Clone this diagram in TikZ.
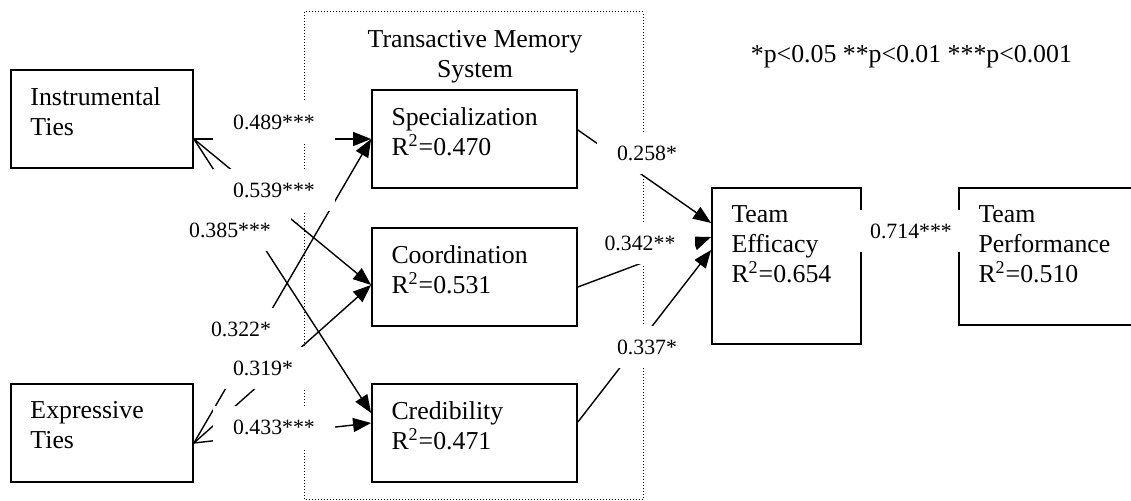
\documentclass[tikz,border=0pt]{standalone}
\usepackage{fontspec}
\setmainfont{Liberation Serif}
\usetikzlibrary{arrows.meta}

\begin{document}
\begin{tikzpicture}[x=0.5pt,y=-0.5pt,font=\fontsize{12.9}{15}\selectfont]
	\tikzstyle{var}=[draw,line width=0.9pt,inner sep=0pt];
	\tikzstyle{txt}=[anchor=north west,align=left,inner sep=0pt,xshift=10pt,yshift=-9pt];
	\tikzstyle{link}=[line width=0.7pt,-{Triangle[length=9pt,width=7pt]}];
	\tikzstyle{coef}=[fill=white,inner xsep=10pt,inner ysep=7pt,font=\fontsize{10.9}{13}\selectfont];
	\useasboundingbox (0,0) rectangle (1131,501);
	%% transactive memory system
	\draw[densely dotted,line width=0.5pt] (304,12) rectangle (643,499.5);
	\node[align=center] (tms) at (475,57) {Transactive Memory\\System};
	\node[anchor=east] (note) at (1079,57) {*p<0.05 **p<0.01 ***p<0.001};
	%% variables
	\node[var,minimum width=91pt,minimum height=49pt,label={[txt]north west:{Instrumental\\Ties}}] (instr) at (102,119) {};
	\node[var,minimum width=91pt,minimum height=49pt,label={[txt]north west:{Expressive\\Ties}}]   (expr)  at (102,433) {};
	\node[var,minimum width=102.5pt,minimum height=49pt,label={[txt]north west:{Specialization\\R\textsuperscript{2}=0.470}}] (spec)  at (474.5,139) {};
	\node[var,minimum width=102.5pt,minimum height=49pt,label={[txt]north west:{Coordination\\R\textsuperscript{2}=0.531}}]   (coord) at (474.5,277) {};
	\node[var,minimum width=102.5pt,minimum height=49pt,label={[txt]north west:{Credibility\\R\textsuperscript{2}=0.471}}]    (cred)  at (474.5,433) {};
	\node[var,minimum width=74.5pt,minimum height=78pt,label={[txt]north west:{Team\\Efficacy\\R\textsuperscript{2}=0.654}}]  (eff)   at (786.5,266) {};
	\node[var,minimum width=90.5pt,minimum height=68.5pt,label={[txt]north west:{Team\\Performance\\R\textsuperscript{2}=0.510}}] (perf) at (1049.5,256.5) {};
	%% paths
	\draw[link] ([yshift=-10pt]instr.east) -- (spec.west);
	\draw[link] ([yshift=-10pt]instr.east) -- ([yshift=-4pt]coord.west);
	\draw[link] ([yshift=-10pt]instr.east) -- ([yshift=10pt]cred.west);
	\draw[link] ([yshift=-5pt]expr.east)   -- (spec.west);
	\draw[link] ([yshift=-5pt]expr.east)   -- ([yshift=-4pt]coord.west);
	\draw[link] ([yshift=-5pt]expr.east)   -- ([yshift=5pt]cred.west);
	\draw[link] ([yshift=4.5pt]spec.east)  -- ([yshift=21.5pt]eff.west);
	\draw[link] ([yshift=-5pt]coord.east)  -- ([yshift=14.5pt]eff.west);
	\draw[link] ([yshift=5.5pt]cred.east)  -- ([yshift=8pt]eff.west);
	\draw[link] ([yshift=14.5pt]eff.east)  -- ([yshift=9.75pt]perf.west);
	%% coefficients
	\node[coef] (c489) at (274,122) {0.489***};
	\node[coef] (c539) at (274,190) {0.539***};
	\node[coef] (c385) at (230,230) {0.385***};
	\node[coef] (c322) at (241,329) {0.322*};
	\node[coef] (c319) at (263,368) {0.319*};
	\node[coef] (c433) at (274,427) {0.433***};
	\node[coef] (c258) at (647,153) {0.258*};
	\node[coef] (c342) at (640,243) {0.342**};
	\node[coef] (c337) at (647,347) {0.337*};
	\node[coef] (c714) at (911,231) {0.714***};
\end{tikzpicture}
\end{document}
